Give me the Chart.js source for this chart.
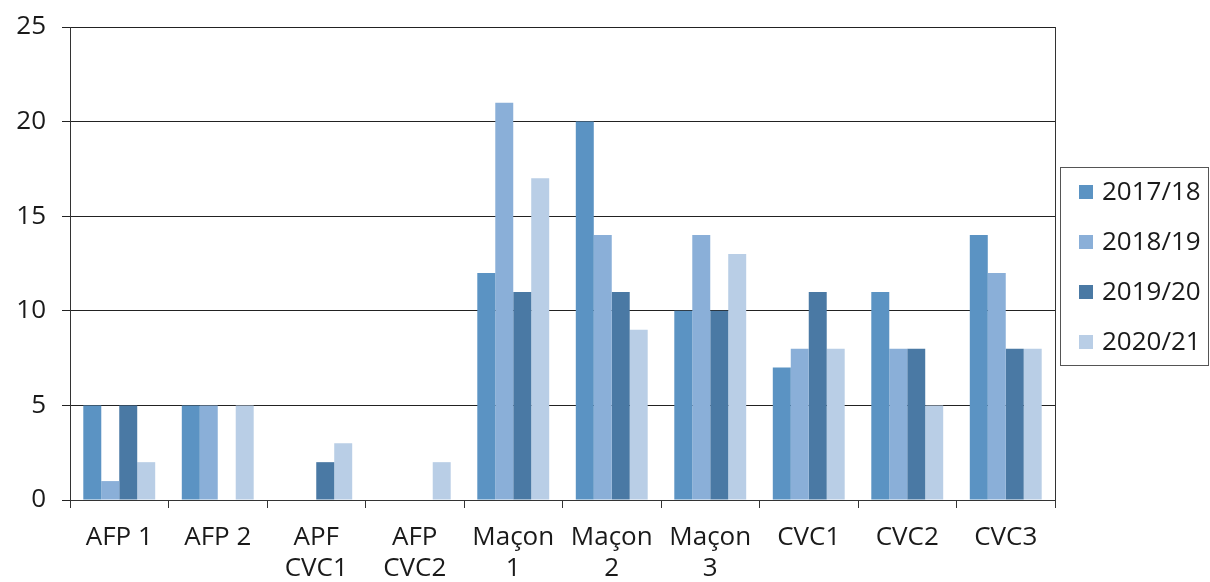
<!DOCTYPE html>
<html lang="fr">
<head>
    <meta charset="UTF-8">
    <script src="https://cdn.jsdelivr.net/npm/chart.js"></script>
    <title>Effectifs</title>
    <style>
        html, body { margin: 0; padding: 0; background: #fff; }
        .grafico { width: 1210px; height: 582px; }
    </style>
</head>
<body>
    <div class="grafico">
        <canvas id="MyChart" width="1210" height="582"></canvas>
    </div>
<script>
    // données
    var categories = ['AFP 1', 'AFP 2', ['APF', 'CVC1'], ['AFP', 'CVC2'], ['Maçon', '1'], ['Maçon', '2'], ['Maçon', '3'], 'CVC1', 'CVC2', 'CVC3'];
    var annees = ['2017/18', '2018/19', '2019/20', '2020/21'];
    var serie1718 = [5, 5, 0, 0, 12, 20, 10, 7, 11, 14];
    var serie1819 = [1, 5, 0, 0, 21, 14, 14, 8, 8, 12];
    var serie1920 = [5, 0, 2, 0, 11, 11, 10, 11, 8, 8];
    var serie2021 = [2, 5, 3, 2, 17, 9, 13, 8, 5, 8];
    var ticksY = [0, 5, 10, 15, 20, 25];

    var couleurs = ['#5b93c3', '#8aafd8', '#4a79a4', '#b9cee6'];
    var police = '"Open Sans", "DejaVu Sans", sans-serif';

    // cadre à droite + légende encadrée
    const cadreLegende = {
        id: 'cadreLegende',
        afterDraw(chart) {
            const ctx = chart.ctx;
            const area = chart.chartArea;
            ctx.save();
            ctx.strokeStyle = '#333';
            ctx.lineWidth = 1;
            ctx.beginPath();
            ctx.moveTo(Math.round(area.right) + 0.5, area.top);
            ctx.lineTo(Math.round(area.right) + 0.5, area.bottom);
            ctx.stroke();

            ctx.strokeStyle = '#555';
            ctx.strokeRect(1060.5, 167.5, 148, 198);
            ctx.font = '26px ' + police;
            ctx.textBaseline = 'middle';
            chart.data.datasets.forEach(function (ds, i) {
                var y = 192 + i * 50;
                ctx.fillStyle = ds.backgroundColor;
                ctx.fillRect(1079, y - 7, 14, 14);
                ctx.fillStyle = '#1a1a1a';
                ctx.fillText(ds.label, 1102, y + 1);
            });
            ctx.restore();
        }
    };

    var dados = {
        labels: categories,
        datasets: [
            { label: annees[0], data: serie1718, backgroundColor: couleurs[0] },
            { label: annees[1], data: serie1819, backgroundColor: couleurs[1] },
            { label: annees[2], data: serie1920, backgroundColor: couleurs[2] },
            { label: annees[3], data: serie2021, backgroundColor: couleurs[3] }
        ]
    };

    const config = {
        type: 'bar',
        data: dados,
        options: {
            responsive: false,
            animation: false,
            layout: { padding: { top: 27, right: 155, left: 0, bottom: 0 } },
            datasets: { bar: { categoryPercentage: 0.73, barPercentage: 1.0 } },
            plugins: {
                legend: { display: false },
                tooltip: { enabled: false }
            },
            scales: {
                x: {
                    grid: { offset: true, drawOnChartArea: false, tickLength: 8, color: '#333' },
                    border: { color: '#333' },
                    ticks: { color: '#1a1a1a', font: { family: police, size: 26, lineHeight: 1.2 }, padding: 14, maxRotation: 0, autoSkip: false },
                    afterFit: function (s) { s.height = 82; s.paddingLeft = 0; s.paddingRight = 0; }
                },
                y: {
                    min: 0,
                    max: 25,
                    afterBuildTicks: function (s) { s.ticks = ticksY.map(function (v) { return { value: v }; }); },
                    grid: { color: '#222', tickLength: 8 },
                    border: { color: '#333' },
                    ticks: { color: '#1a1a1a', font: { family: police, size: 26 }, padding: 16 },
                    afterFit: function (s) { s.width = 70; s.paddingTop = 0; s.paddingBottom = 0; }
                }
            }
        },
        plugins: [cadreLegende]
    };

    let MyChart = new Chart(document.getElementById('MyChart'), config);
</script>
</body>
</html>
